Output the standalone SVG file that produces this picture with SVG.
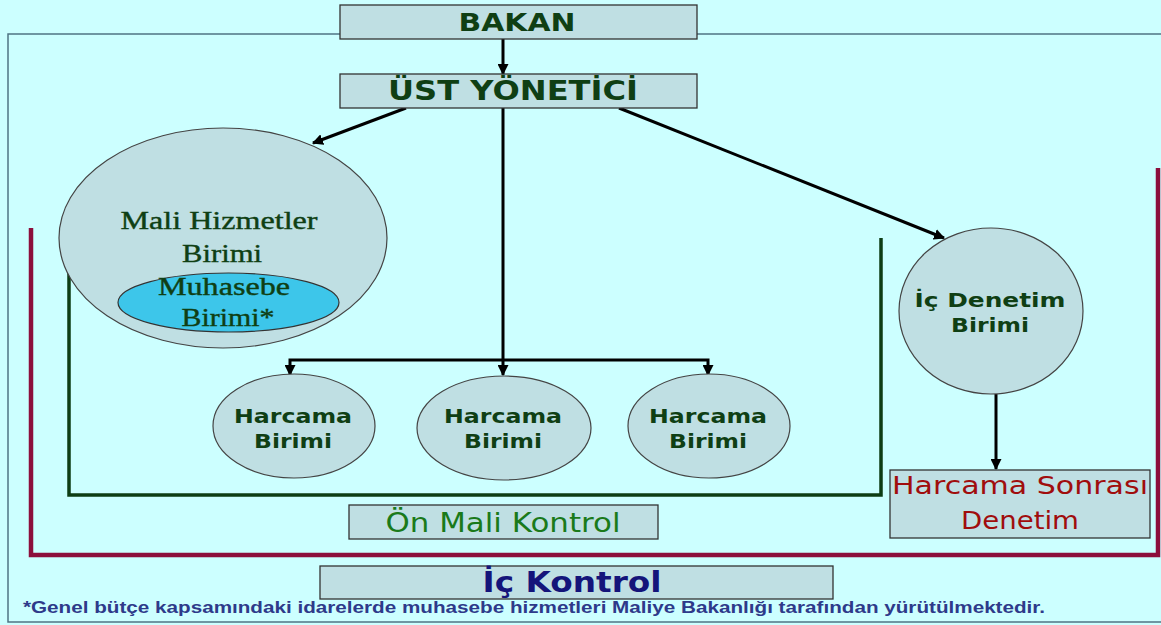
<svg xmlns="http://www.w3.org/2000/svg" width="1161" height="625" viewBox="0 0 1161 625">
<defs>
<style>
.box{fill:#bfdfe3;stroke:#333;stroke-width:1.3}
.ell{fill:#bfdfe3;stroke:#444;stroke-width:1.2}
.hd{font-family:"DejaVu Sans",Verdana,sans-serif;font-weight:bold;fill:#0f3f14;text-anchor:middle}
.sf{font-family:"Liberation Serif","Times New Roman",serif;fill:#0f3f14;stroke:#0f3f14;stroke-width:0.4;text-anchor:middle}
.con{stroke:#000;stroke-width:3;fill:none}
</style>
<marker id="ah" viewBox="0 0 10 10" refX="9" refY="5" markerWidth="11" markerHeight="11" markerUnits="userSpaceOnUse" orient="auto">
<path d="M0,0 L10,5 L0,10 z" fill="#000"/>
</marker>
</defs>
<rect x="0" y="0" width="1161" height="625" fill="#ccffff"/>
<g id="frames" fill="none">
<path d="M340,34 H8 V622 H1161 M697,34 H1161" stroke="#4f7484" stroke-width="1.5"/>
<path d="M31,228 V555 H1158 V168" stroke="#8c0f3c" stroke-width="4.5"/>
<path d="M69,273 V495 H881 V238" stroke="#0d3d14" stroke-width="3.5"/>
</g>
<g id="connectors">
<line class="con" x1="503" y1="39" x2="503" y2="74" marker-end="url(#ah)"/>
<line class="con" x1="406" y1="108" x2="313" y2="143" marker-end="url(#ah)"/>
<line class="con" x1="619" y1="108" x2="944" y2="238" marker-end="url(#ah)"/>
<line class="con" x1="503" y1="108" x2="503" y2="375" marker-end="url(#ah)"/>
<polyline class="con" points="503,360 290,360 290,375" marker-end="url(#ah)"/>
<polyline class="con" points="503,360 708,360 708,375" marker-end="url(#ah)"/>
<line class="con" x1="996" y1="394" x2="996" y2="469" marker-end="url(#ah)"/>
</g>
<g id="bakan">
<rect class="box" x="340" y="5" width="357" height="34"/>
<text class="hd" x="517" y="31" font-size="25" textLength="117" lengthAdjust="spacingAndGlyphs">BAKAN</text>
</g>
<g id="ust-yonetici">
<rect class="box" x="340" y="74" width="357" height="34"/>
<text class="hd" x="513" y="100" font-size="26" textLength="250" lengthAdjust="spacingAndGlyphs">ÜST YÖNETİCİ</text>
</g>
<g id="mali-hizmetler">
<ellipse class="ell" cx="223" cy="238" rx="164" ry="110"/>
<text class="sf" x="219" y="229" font-size="25" textLength="197" lengthAdjust="spacingAndGlyphs">Mali Hizmetler</text>
<text class="sf" x="222" y="262" font-size="25" textLength="80" lengthAdjust="spacingAndGlyphs">Birimi</text>
</g>
<g id="muhasebe">
<ellipse cx="228.5" cy="302.5" rx="110.5" ry="29.5" fill="#3dc6ea" stroke="#333" stroke-width="1.2"/>
<text class="sf" x="224" y="295" font-size="25" textLength="132" lengthAdjust="spacingAndGlyphs">Muhasebe</text>
<text class="sf" x="228" y="326" font-size="25" textLength="93" lengthAdjust="spacingAndGlyphs">Birimi*</text>
</g>
<g id="harcama1">
<ellipse class="ell" cx="294" cy="426" rx="81" ry="52"/>
<text class="hd" x="293" y="423" font-size="20" textLength="118" lengthAdjust="spacingAndGlyphs">Harcama</text>
<text class="hd" x="293" y="448" font-size="20" textLength="78" lengthAdjust="spacingAndGlyphs">Birimi</text>
</g>
<g id="harcama2">
<ellipse class="ell" cx="504" cy="428" rx="87" ry="52"/>
<text class="hd" x="503" y="423" font-size="20" textLength="118" lengthAdjust="spacingAndGlyphs">Harcama</text>
<text class="hd" x="503" y="448" font-size="20" textLength="78" lengthAdjust="spacingAndGlyphs">Birimi</text>
</g>
<g id="harcama3">
<ellipse class="ell" cx="709" cy="426" rx="81" ry="52"/>
<text class="hd" x="708" y="423" font-size="20" textLength="118" lengthAdjust="spacingAndGlyphs">Harcama</text>
<text class="hd" x="708" y="448" font-size="20" textLength="78" lengthAdjust="spacingAndGlyphs">Birimi</text>
</g>
<g id="ic-denetim">
<ellipse class="ell" cx="991" cy="311" rx="92" ry="83"/>
<text class="hd" x="990" y="307" font-size="20" textLength="151" lengthAdjust="spacingAndGlyphs">İç Denetim</text>
<text class="hd" x="990" y="332" font-size="20" textLength="78" lengthAdjust="spacingAndGlyphs">Birimi</text>
</g>
<g id="harcama-sonrasi">
<rect class="box" x="890" y="470" width="260" height="68"/>
<text x="1020" y="494" font-family="'DejaVu Sans',Verdana,sans-serif" font-size="25" fill="#a00d0d" text-anchor="middle" textLength="256" lengthAdjust="spacingAndGlyphs">Harcama Sonrası</text>
<text x="1020" y="529" font-family="'DejaVu Sans',Verdana,sans-serif" font-size="25" fill="#a00d0d" text-anchor="middle" textLength="118" lengthAdjust="spacingAndGlyphs">Denetim</text>
</g>
<g id="on-mali-kontrol">
<rect class="box" x="349" y="505" width="309" height="34"/>
<text x="503" y="532" font-family="'DejaVu Sans',Verdana,sans-serif" font-size="26" fill="#1a7a1a" text-anchor="middle" textLength="235" lengthAdjust="spacingAndGlyphs">Ön Mali Kontrol</text>
</g>
<g id="ic-kontrol">
<rect class="box" x="320" y="566" width="513" height="33"/>
<text x="572" y="592" font-family="'DejaVu Sans',Verdana,sans-serif" font-weight="bold" font-size="28" fill="#14147a" text-anchor="middle" textLength="179" lengthAdjust="spacingAndGlyphs">İç Kontrol</text>
</g>
<text id="footnote" x="23" y="613" font-family="'Liberation Sans',Arial,sans-serif" font-weight="bold" font-size="16" fill="#2e3a8a" textLength="1022" lengthAdjust="spacingAndGlyphs">*Genel bütçe kapsamındaki idarelerde muhasebe hizmetleri Maliye Bakanlığı tarafından yürütülmektedir.</text>
</svg>
